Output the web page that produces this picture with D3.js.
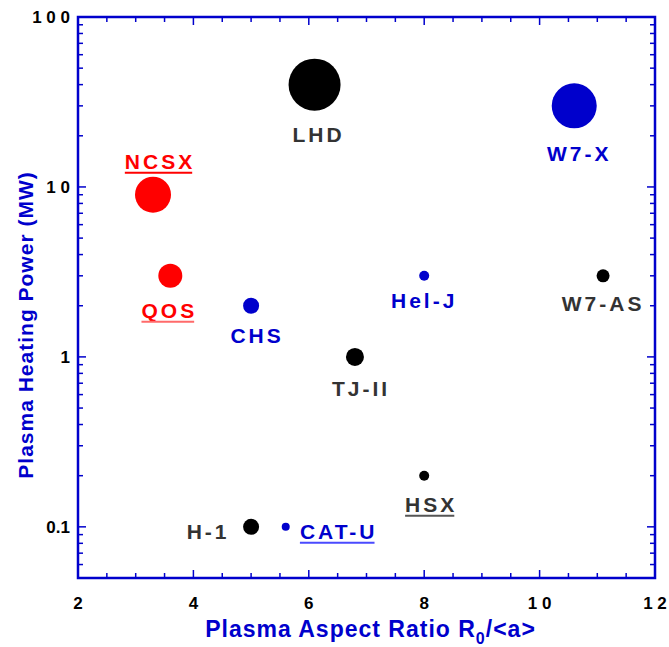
<!DOCTYPE html>
<html>
<head>
<meta charset="utf-8">
<script src="https://cdn.jsdelivr.net/npm/d3@7"></script>
<style>
  body { margin: 0; background: #fff; }
  text { font-family: "Liberation Sans", Arial, sans-serif; font-weight: bold; }
</style>
</head>
<body>
<div id="chart"></div>
<script>
"use strict";

// devices
const devices = ["LHD", "W7-X", "NCSX", "QOS", "CHS", "Hel-J", "W7-AS", "TJ-II", "H-1", "CAT-U", "HSX"];
const aspectRatio = [6.1, 10.6, 3.3, 3.6, 5.0, 8.0, 11.1, 6.8, 5.0, 5.6, 8.0];
const heatingPower = [40, 30, 9, 3, 2, 3, 3, 1, 0.1, 0.1, 0.2];
const markerSize = [26, 22.5, 18, 12, 8, 5, 6.5, 9, 8, 4, 5];
const group = ["black", "blue", "red", "red", "blue", "blue", "black", "black", "black", "blue", "black"];
const underlined = ["NCSX", "QOS", "CAT-U", "HSX"];

const xTickLabels = ["2", "4", "6", "8", "1 0", "1 2"];
const yTickLabels = ["0.1", "1", "1 0", "1 0 0"];

const width = 669;
const height = 647;
const margin = { left: 78, right: 14, top: 17, bottom: 69 };

const axisBlue = "#0000cc";
const dotColor = { black: "#000000", blue: "#0000cc", red: "#ff0000" };
const textColor = { black: "#333333", blue: "#0000cc", red: "#ff0000" };
const underlineColor = { NCSX: "#ff0000", QOS: "#ff6a6a", "CAT-U": "#4a4aff", HSX: "#555555" };

// label offsets relative to the dot (dx, dy of text baseline centre)
const labelOffset = {
  "LHD": [4, 57], "W7-X": [5, 55], "NCSX": [7, -26], "QOS": [-1, 42],
  "CHS": [6, 37], "Hel-J": [0, 32], "W7-AS": [0, 35], "TJ-II": [6, 39],
  "H-1": [-43, 12], "CAT-U": [53, 12], "HSX": [7, 36]
};

const x = d3.scaleLinear().domain([2, 12]).range([margin.left, width - margin.right]);
const y = d3.scaleLog().domain([0.05, 100]).range([height - margin.bottom, margin.top]);

const svg = d3.select("#chart").append("svg")
  .attr("width", width)
  .attr("height", height);

const x0 = margin.left, x1 = width - margin.right;
const y0 = height - margin.bottom, y1 = margin.top;

// ticks, all pointing inward on every side
const xMinor = d3.range(2.5, 12, 0.5);
const ticks = svg.append("g").attr("stroke", axisBlue).attr("stroke-width", 1.5);

xMinor.forEach(function(v) {
  const len = (v % 2 === 0) ? 8 : 5;
  ticks.append("line").attr("x1", x(v)).attr("x2", x(v)).attr("y1", y0).attr("y2", y0 - len);
  ticks.append("line").attr("x1", x(v)).attr("x2", x(v)).attr("y1", y1).attr("y2", y1 + len);
});

const yTicks = y.ticks().filter(function(v) { return v > 0.05 && v < 100; });
yTicks.forEach(function(v) {
  const major = Math.abs(Math.log10(v) - Math.round(Math.log10(v))) < 1e-9;
  const len = major ? 8 : 5;
  ticks.append("line").attr("x1", x0).attr("x2", x0 + len).attr("y1", y(v)).attr("y2", y(v));
  ticks.append("line").attr("x1", x1).attr("x2", x1 - len).attr("y1", y(v)).attr("y2", y(v));
});

// frame
svg.append("rect")
  .attr("x", x0).attr("y", y1)
  .attr("width", x1 - x0).attr("height", y0 - y1)
  .attr("fill", "none")
  .attr("stroke", axisBlue)
  .attr("stroke-width", 2.5);

// tick labels
const xTickValues = [2, 4, 6, 8, 10, 12];
svg.append("g").selectAll("text")
  .data(xTickValues)
  .join("text")
  .attr("x", function(d) { return x(d); })
  .attr("y", y0 + 31)
  .attr("text-anchor", "middle")
  .attr("font-size", 17)
  .attr("fill", "#000")
  .text(function(d, i) { return xTickLabels[i]; });

const yTickValues = [0.1, 1, 10, 100];
svg.append("g").selectAll("text")
  .data(yTickValues)
  .join("text")
  .attr("x", x0 - 8)
  .attr("y", function(d) { return y(d) + 6; })
  .attr("text-anchor", "end")
  .attr("font-size", 17)
  .attr("fill", "#000")
  .text(function(d, i) { return yTickLabels[i]; });

// axis titles
const xTitle = svg.append("text")
  .attr("x", (x0 + x1) / 2 + 4)
  .attr("y", y0 + 59)
  .attr("text-anchor", "middle")
  .attr("font-size", 23)
  .attr("letter-spacing", 1)
  .attr("fill", axisBlue);
xTitle.append("tspan").text("Plasma Aspect Ratio R");
xTitle.append("tspan").attr("font-size", 16).attr("dy", 7).text("0");
xTitle.append("tspan").attr("dy", -7).text("/<a>");

svg.append("text")
  .attr("transform", "translate(33,325) rotate(-90)")
  .attr("text-anchor", "middle")
  .attr("font-size", 21)
  .attr("letter-spacing", 1)
  .attr("fill", axisBlue)
  .text("Plasma Heating Power (MW)");

// data
const data = devices.map(function(name, i) {
  return { name: name, ar: aspectRatio[i], p: heatingPower[i], r: markerSize[i], g: group[i] };
});

svg.append("g").selectAll("circle")
  .data(data)
  .join("circle")
  .attr("cx", function(d) { return x(d.ar); })
  .attr("cy", function(d) { return y(d.p); })
  .attr("r", function(d) { return d.r; })
  .attr("fill", function(d) { return dotColor[d.g]; });

const labels = svg.append("g").selectAll("g")
  .data(data)
  .join("g")
  .attr("transform", function(d) {
    const off = labelOffset[d.name];
    return "translate(" + (x(d.ar) + off[0]) + "," + (y(d.p) + off[1]) + ")";
  });

labels.append("text")
  .attr("text-anchor", "middle")
  .attr("font-size", 21)
  .attr("letter-spacing", 3)
  .attr("fill", function(d) { return textColor[d.g]; })
  .text(function(d) { return d.name; });

labels.filter(function(d) { return underlined.indexOf(d.name) >= 0; })
  .each(function(d) {
    const g = d3.select(this);
    const w = g.select("text").node().getComputedTextLength() - 3;
    g.append("line")
      .attr("x1", -w / 2 - 1.5).attr("x2", w / 2 - 1.5)
      .attr("y1", 4).attr("y2", 4)
      .attr("stroke", underlineColor[d.name])
      .attr("stroke-width", 2);
  });
</script>
</body>
</html>
